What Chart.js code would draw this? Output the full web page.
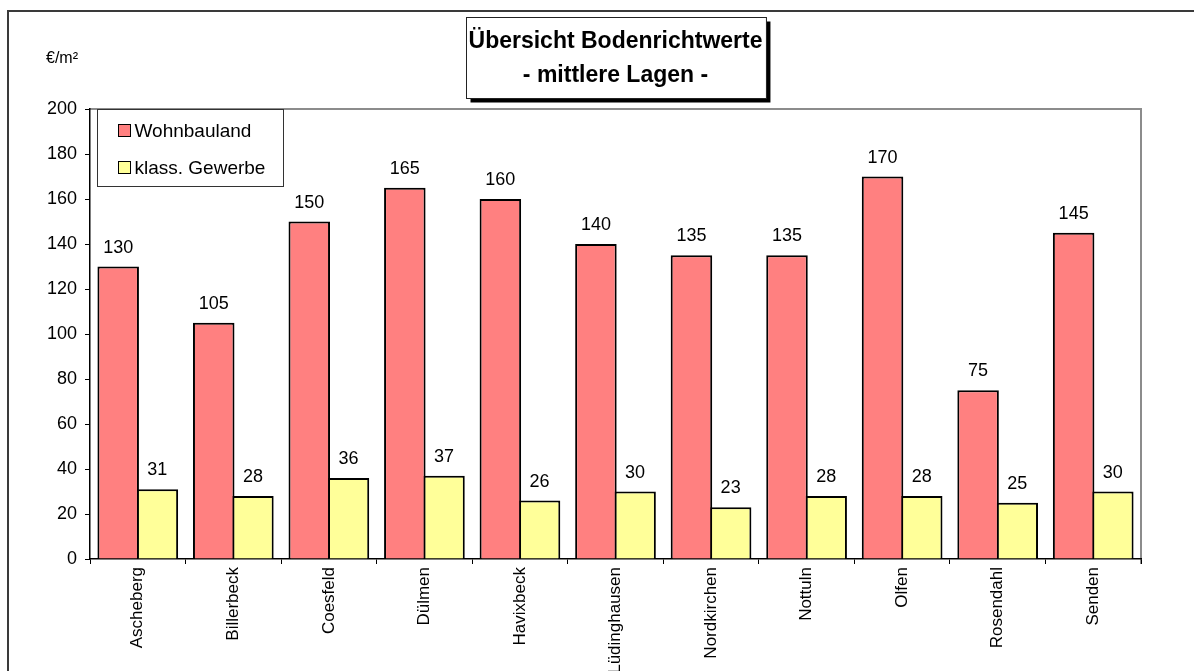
<!DOCTYPE html>
<html>
<head>
<meta charset="utf-8">
<script src="https://cdn.jsdelivr.net/npm/chart.js@4.4.1/dist/chart.umd.min.js"></script>
<style>
  html, body { margin: 0; padding: 0; background: #fff; }
</style>
</head>
<body>
<canvas id="bodenrichtwerte" width="1194" height="671"></canvas>
<script>
var orte = ['Ascheberg', 'Billerbeck', 'Coesfeld', 'Dülmen', 'Havixbeck', 'Lüdinghausen',
            'Nordkirchen', 'Nottuln', 'Olfen', 'Rosendahl', 'Senden'];
var wohnbauland = [130, 105, 150, 165, 160, 140, 135, 135, 170, 75, 145];
var gewerbe = [31, 28, 36, 37, 26, 30, 23, 28, 28, 25, 30];
var yTicks = [0, 20, 40, 60, 80, 100, 120, 140, 160, 180, 200];
var titelZeilen = ['Übersicht Bodenrichtwerte', '- mittlere Lagen -'];
var einheit = '€/m²';

var schrift = 'Arial, "Liberation Sans", sans-serif';

// Rahmen um das ganze Diagramm + graue Kante oben/rechts am Plotbereich
var rahmen = {
    id: 'rahmen',
    beforeDraw: function (chart) {
        var ctx = chart.ctx;
        var a = chart.chartArea;
        ctx.save();
        ctx.fillStyle = '#fff';
        ctx.fillRect(0, 0, chart.width, chart.height);
        ctx.strokeStyle = '#3a3a3a';
        ctx.lineWidth = 2;
        ctx.beginPath();
        ctx.moveTo(8, chart.height + 5);
        ctx.lineTo(8, 11);
        ctx.lineTo(chart.width + 5, 11);
        ctx.stroke();
        ctx.strokeStyle = '#8c8c8c';
        ctx.lineWidth = 2;
        ctx.beginPath();
        ctx.moveTo(a.left, a.top);
        ctx.lineTo(a.right, a.top);
        ctx.lineTo(a.right, a.bottom + 5);
        ctx.stroke();
        ctx.restore();
    }
};

// Werte über den Säulen
var werte = {
    id: 'werte',
    afterDatasetsDraw: function (chart) {
        var ctx = chart.ctx;
        ctx.save();
        ctx.font = '18px ' + schrift;
        ctx.fillStyle = '#000';
        ctx.textAlign = 'center';
        ctx.textBaseline = 'alphabetic';
        chart.data.datasets.forEach(function (ds, i) {
            chart.getDatasetMeta(i).data.forEach(function (bar, j) {
                ctx.fillText(String(ds.data[j]), bar.x, bar.y - 14);
            });
        });
        ctx.restore();
    }
};

// Legende im Plotbereich oben links, mit Kasten
var legende = {
    id: 'legende',
    afterDraw: function (chart) {
        var ctx = chart.ctx;
        var a = chart.chartArea;
        var x = a.left + 7.5, y = a.top + 0.5, w = 186, h = 77;
        ctx.save();
        ctx.fillStyle = '#fff';
        ctx.fillRect(x, y, w, h);
        ctx.strokeStyle = '#333';
        ctx.lineWidth = 1;
        ctx.strokeRect(x, y, w, h);
        ctx.font = '19px ' + schrift;
        ctx.textBaseline = 'middle';
        chart.data.datasets.forEach(function (ds, i) {
            var cy = y + 21 + i * 37;
            ctx.fillStyle = ds.backgroundColor;
            ctx.fillRect(x + 21, cy - 6, 12, 12);
            ctx.strokeStyle = '#000';
            ctx.strokeRect(x + 21, cy - 6, 12, 12);
            ctx.fillStyle = '#000';
            ctx.fillText(ds.label, x + 37, cy + 1);
        });
        ctx.restore();
    }
};

// Titelkasten mit Schatten und Einheit links oben
var titel = {
    id: 'titel',
    afterDraw: function (chart) {
        var ctx = chart.ctx;
        var a = chart.chartArea;
        ctx.save();
        ctx.font = 'bold 23px ' + schrift;
        var tw = Math.max.apply(null, titelZeilen.map(function (t) { return ctx.measureText(t).width; }));
        var bw = Math.max(297, tw + 6), bh = 81;
        var cx = (a.left + a.right) / 2;
        var bx = Math.round(cx - bw / 2) + 0.5, by = 17.5;
        ctx.fillStyle = '#000';
        ctx.fillRect(bx + 4, by + 4, bw, bh);
        ctx.fillStyle = '#fff';
        ctx.fillRect(bx, by, bw, bh);
        ctx.strokeStyle = '#222';
        ctx.lineWidth = 1;
        ctx.strokeRect(bx, by, bw, bh);
        ctx.fillStyle = '#000';
        ctx.textAlign = 'center';
        ctx.textBaseline = 'alphabetic';
        ctx.fillText(titelZeilen[0], cx, 48);
        ctx.fillText(titelZeilen[1], cx, 82);
        ctx.font = '16px ' + schrift;
        ctx.textAlign = 'left';
        ctx.fillText(einheit, 46, 63);
        ctx.restore();
    }
};

new Chart(document.getElementById('bodenrichtwerte').getContext('2d'), {
    type: 'bar',
    data: {
        labels: orte,
        datasets: [
            {
                label: 'Wohnbauland',
                data: wohnbauland,
                backgroundColor: '#ff8080',
                borderColor: '#000',
                borderWidth: 2
            },
            {
                label: 'klass. Gewerbe',
                data: gewerbe,
                backgroundColor: '#ffff99',
                borderColor: '#000',
                borderWidth: 2
            }
        ]
    },
    options: {
        responsive: false,
        animation: false,
        layout: { padding: { left: 0, top: 109, right: 53, bottom: 0 } },
        datasets: {
            bar: { categoryPercentage: 0.82, barPercentage: 1.06 }
        },
        plugins: {
            legend: { display: false },
            title: { display: false },
            tooltip: { enabled: false }
        },
        scales: {
            x: {
                afterFit: function (scale) { scale.height = 112; },
                grid: { drawOnChartArea: false, drawTicks: true, tickLength: 5, color: '#000' },
                border: { color: '#000', width: 1.5 },
                ticks: {
                    minRotation: 90,
                    maxRotation: 90,
                    autoSkip: false,
                    padding: 3,
                    color: '#000',
                    font: { family: schrift, size: 17 }
                }
            },
            y: {
                min: 0,
                max: 200,
                afterFit: function (scale) { scale.width = 90; },
                afterBuildTicks: function (scale) {
                    scale.ticks = yTicks.map(function (v) { return { value: v }; });
                },
                grid: { drawOnChartArea: false, drawTicks: true, tickLength: 5, color: '#000' },
                border: { color: '#000', width: 1.5 },
                ticks: {
                    padding: 8,
                    color: '#000',
                    font: { family: schrift, size: 18 }
                }
            }
        }
    },
    plugins: [rahmen, werte, legende, titel]
});
</script>
</body>
</html>
